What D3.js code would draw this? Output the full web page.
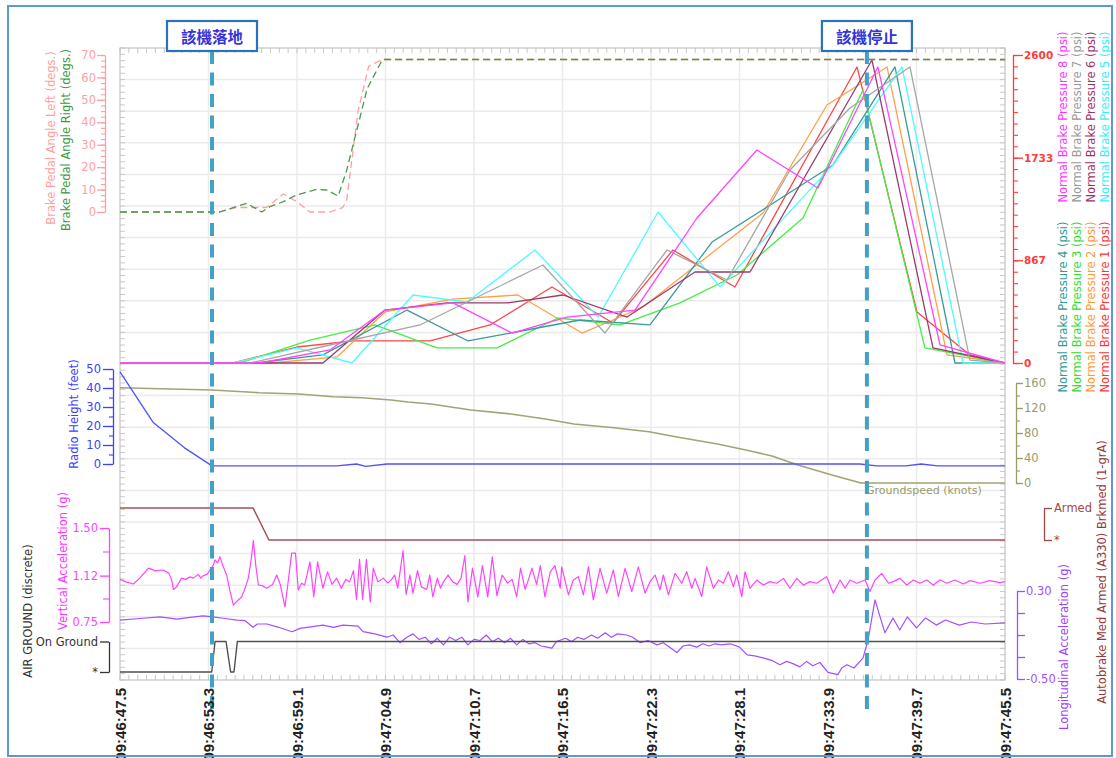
<!DOCTYPE html>
<html>
<head>
<meta charset="utf-8">
<script src="https://cdn.jsdelivr.net/npm/d3@7"></script>
<style>
  body { margin: 0; background: #fff; }
  svg { display: block; }
  text { font-family: "DejaVu Sans", Verdana, sans-serif; }
</style>
</head>
<body>
<svg id="chart" width="1116" height="758"></svg>
<script>
// ---------------- data (time in seconds after 09:46:47.5) ----------------
const timeDomain = [0, 58];
const tickStep = 5.8;
const xTickLabels = ["09:46:47.5", "09:46:53.3", "09:46:59.1", "09:47:04.9", "09:47:10.7",
  "09:47:16.5", "09:47:22.3", "09:47:28.1", "09:47:33.9", "09:47:39.7", "09:47:45.5"];

const eventTimes = [6.03, 48.95];
const eventLabels = ["該機落地", "該機停止"];

// brake pedal angles (degs.)
const pedalLeft = [[0,0],[6.5,0],[7.6,2],[9.6,2],[10.7,8],[11.58,4.6],[12.45,0],[13.76,0],[14.6,2],[14.86,5.4],
  [15.6,45],[16.3,65],[17.2,68],[58,68]];
const pedalRight = [[0,0],[6.55,0],[8.3,3.9],[9.29,0],[9.83,2.4],[10.7,4.6],[11.58,7.6],[12.89,10.1],[13.55,9.8],
  [14.3,7.1],[14.86,18.7],[16.2,55],[17.2,68],[58,68]];

// normal brake pressures (psi)
const brakePressure1 = [[0,0],[7.4,0],[11.6,135],[15.27,186],[20.32,186],[24.25,321],[28.31,642],[32.31,338],
  [36.24,954],[40.3,642],[48.3,2499],[52.23,431],[55.7,68],[58,0]];
const brakePressure2 = [[0,0],[9.83,0],[14.22,51],[17.37,431],[21.8,540],[26.08,574],[30.28,253],[32.31,363],
  [34.27,473],[42.14,1266],[46.33,2178],[50.27,2499],[54.2,68],[58,0]];
const brakePressure3 = [[0,0],[7.86,0],[12.45,194],[16.71,321],[20.77,127],[24.71,127],[28.7,380],[32.77,321],
  [36.7,507],[40.43,743],[44.76,1224],[48.69,2305],[52.75,127],[58,0]];
const brakePressure4 = [[0,0],[8.85,0],[13.3,68],[18.81,447],[22.81,186],[30.15,363],[34.73,321],[38.8,1021],
  [46.73,1672],[50.79,2499],[54.72,0],[58,0]];
const brakePressure5 = [[0,0],[7.41,0],[11.6,127],[15.2,0],[19.2,574],[22.74,515],[27.2,954],[31.33,388],
  [35.26,1275],[39.32,642],[46.73,1672],[51.25,2499],[55.25,0],[58,0]];
const brakePressure6 = [[0,0],[13.3,0],[17.37,447],[21.43,507],[25.36,507],[29.03,574],[33.23,388],[37.68,768],
  [41.29,768],[49.28,2558],[53.28,127],[58,0]];
const brakePressure7 = [[0,0],[8.52,0],[13.76,152],[19.66,321],[27.72,827],[31.78,253],[35.85,954],[39.78,701],
  [43.91,1629],[47.84,2153],[51.77,2499],[55.7,25],[58,0]];
const brakePressure8 = [[0,0],[9.17,0],[13.76,110],[17.37,447],[21.82,507],[25.69,253],[29.29,388],[33.75,447],
  [37.81,1224],[41.74,1798],[45.74,1477],[49.67,2499],[53.74,152],[58,0]];
const pressureNames = ["Normal Brake Pressure 1 (psi)", "Normal Brake Pressure 2 (psi)",
  "Normal Brake Pressure 3 (psi)", "Normal Brake Pressure 4 (psi)", "Normal Brake Pressure 5 (psi)",
  "Normal Brake Pressure 6 (psi)", "Normal Brake Pressure 7 (psi)", "Normal Brake Pressure 8 (psi)"];
const pressureTicks = [0, 867, 1733, 2600];

// radio height (feet) and groundspeed (knots)
const radioHeight = [[0,48.5],[2.16,22],[4.23,8.5],[6.03,-1],[14.2,-1],[15.5,0],[16.1,-1.2],[17.5,0],
  [48.5,0],[49.6,-1],[51.5,-1],[52.5,0],[53.6,-1],[58,-1]];
const groundspeed = [[0,152.5],[6.03,148.8],[9.11,144.5],[11.73,142.4],[13.99,138],[15.86,136.5],[17.76,132.8],
  [18.87,129.6],[20.38,126.4],[23.0,116.8],[25.62,110.4],[27.88,102.4],[29.75,94.4],[32.37,88.5],[34.67,82],
  [36.5,73.6],[39.16,62.4],[41.02,52.8],[42.73,43.2],[44.43,28.8],[46.66,12.8],[48.56,0],[58,0]];

// discretes: autobrake med armed (1 = Armed) and air/ground (1 = On Ground)
const autobrakeArmed = [[0,1],[8.72,1],[9.76,0],[58,0]];
const airGround = [[0,0],[6.01,0],[6.23,1],[6.95,1],[7.25,0],[7.47,0],[7.69,1],[58,1]];

// vertical acceleration (g)
const verticalAccel = [[0,1.09],[0.4,1.07],[0.87,1.053],[1.3,1.1],[1.86,1.18],[2.3,1.16],[2.84,1.165],[3.2,1.14],
  [3.39,1.085],[3.5,1.01],[3.7,1.03],[4.04,1.10],[4.3,1.09],[4.59,1.11],[4.8,1.10],[5.13,1.13],[5.3,1.10],
  [5.46,1.12],[5.7,1.13],[5.9,1.165],[6.1,1.2],[6.23,1.245],[6.4,1.22],[6.55,1.27],[6.77,1.19],[6.99,1.125],
  [7.2,1.0],[7.43,0.885],[7.7,0.92],[7.97,0.95],[8.2,1.02],[8.41,1.10],[8.6,1.25],[8.74,1.40],[8.9,1.2],
  [9.07,1.045],[9.3,1.04],[9.61,1.02],[10.0,1.05],[10.27,1.125],[10.5,1.05],[10.81,0.87],[11.0,1.05],
  [11.25,1.30],[11.5,1.30],[11.68,1.005],[11.9,1.06],[12.1,1.045],[12.45,1.23],[12.7,0.95],[12.95,1.23],
  [13.3,1.02],[13.6,1.15],[13.9,1.05],[14.2,1.10],[14.5,1.02],[14.8,1.09],[15.05,1.07],[15.3,1.16],[15.5,0.93],
  [15.7,1.25],[15.9,0.93],[16.15,1.25],[16.4,0.91],[16.6,1.18],[16.9,1.07],[17.25,1.10],[17.55,1.06],[17.8,1.09],
  [18.0,1.125],[18.2,1.02],[18.55,1.32],[18.75,0.97],[19.0,1.125],[19.2,0.98],[19.5,1.16],[19.75,1.03],
  [20.1,1.01],[20.3,1.125],[20.5,0.95],[20.8,1.10],[21.0,1.02],[21.2,1.07],[21.5,1.125],[21.8,1.07],[22.1,1.05],
  [22.35,1.1],[22.6,1.28],[22.8,0.91],[23.1,1.18],[23.45,0.95],[23.75,1.2],[24.1,0.95],[24.4,1.27],[24.7,0.96],
  [25.05,1.125],[25.4,1.06],[25.7,1.09],[26.0,0.95],[26.25,1.18],[26.55,1.01],[26.8,1.1],[27.0,1.18],[27.3,1.05],
  [27.55,1.2],[27.85,0.95],[28.2,1.15],[28.5,1.2],[28.85,1.02],[28.95,1.19],[29.39,0.966],[29.71,1.085],
  [30.04,1.112],[30.37,0.966],[30.7,1.19],[31.02,0.926],[31.46,1.178],[31.9,0.98],[32.33,1.165],[32.66,0.953],
  [33.1,1.178],[33.54,0.993],[33.97,1.19],[34.41,0.98],[34.74,1.072],[35.07,1.125],[35.39,1.006],[35.61,1.125],
  [35.94,0.966],[36.38,1.138],[36.81,1.059],[37.14,1.151],[37.47,1.019],[37.69,1.098],[38.12,0.953],[38.45,1.19],
  [38.89,1.019],[39.22,1.085],[39.54,1.059],[39.87,1.151],[40.2,1.032],[40.42,1.125],[40.75,0.953],[40.96,1.151],
  [41.29,1.019],[41.73,1.085],[42.16,1.045],[42.6,1.072],[43.04,1.059],[43.48,1.098],[43.91,1.019],[44.35,1.098],
  [44.79,1.045],[45.22,1.072],[45.66,1.059],[46.31,1.112],[46.75,0.98],[47.19,1.085],[47.52,1.019],[47.84,1.085],
  [48.28,1.059],[48.83,1.085],[49.15,0.993],[49.48,1.085],[49.92,1.138],[50.36,1.059],[50.68,1.072],[51.12,1.098],
  [51.56,1.045],[52.0,1.085],[52.43,1.059],[52.87,1.085],[53.3,1.045],[53.74,1.085],[54.18,1.059],[54.72,1.085],
  [55.27,1.053],[55.71,1.08],[56.36,1.059],[57.0,1.08],[57.66,1.064],[58,1.072]];

// longitudinal acceleration (g)
const longitudinalAccel = [[0,0.036],[1.3,0.05],[2.62,0.064],[3.74,0.045],[4.6,0.06],[5.44,0.073],[6.09,0.064],
  [6.9,0.05],[7.67,0.036],[8.2,0.03],[8.72,-0.03],[9.0,0.0],[9.63,0.0],[10.4,-0.03],[11.27,-0.07],[11.8,-0.04],
  [12.26,-0.03],[13.3,-0.01],[14.0,-0.03],[14.61,-0.01],[15.6,-0.02],[15.93,-0.07],[16.7,-0.09],[17.5,-0.12],
  [17.9,-0.1],[18.35,-0.17],[18.8,-0.12],[19.2,-0.09],[19.6,-0.14],[20.0,-0.12],[20.4,-0.18],[20.8,-0.13],
  [21.2,-0.19],[21.6,-0.12],[22.0,-0.15],[22.4,-0.12],[22.8,-0.19],[23.2,-0.14],[23.6,-0.15],[24.0,-0.1],
  [24.4,-0.16],[24.8,-0.13],[25.2,-0.17],[25.6,-0.13],[26.0,-0.19],[26.4,-0.14],[26.8,-0.18],[27.2,-0.17],
  [27.6,-0.2],[28.0,-0.21],[28.3,-0.22],[28.6,-0.16],[28.8,-0.15],[29.2,-0.13],[29.6,-0.16],[30.0,-0.12],
  [30.4,-0.14],[30.9,-0.1],[31.3,-0.13],[31.8,-0.08],[32.2,-0.12],[32.6,-0.09],[33.2,-0.1],[33.6,-0.12],
  [34.1,-0.17],[34.6,-0.15],[35.2,-0.19],[35.6,-0.17],[36.0,-0.21],[36.5,-0.26],[36.9,-0.2],[37.3,-0.19],
  [37.8,-0.21],[38.2,-0.18],[38.6,-0.2],[39.0,-0.18],[39.4,-0.19],[40.0,-0.18],[40.6,-0.21],[41.1,-0.28],
  [41.6,-0.29],[42.2,-0.31],[42.7,-0.33],[43.25,-0.37],[43.7,-0.34],[44.1,-0.36],[44.56,-0.39],[45.0,-0.34],
  [45.4,-0.38],[45.87,-0.35],[46.4,-0.44],[47.05,-0.46],[47.3,-0.4],[47.64,-0.37],[48.1,-0.4],[48.69,-0.31],
  [49.02,-0.15],[49.48,0.22],[50.13,-0.08],[50.66,0.055],[51.1,-0.055],[51.6,0.064],[52.2,-0.036],[52.8,0.055],
  [53.5,-0.01],[54.1,0.036],[55.0,-0.01],[55.8,0.018],[56.7,0.0],[58,0.01]];

// ---------------- layout ----------------
const svg = d3.select("#chart");
const plot = { left: 120, right: 1005, top: 48, bottom: 680 };

const x = d3.scaleLinear().domain(timeDomain).range([plot.left, plot.right]);
const yPedal = d3.scaleLinear().domain([0, 70]).range([212, 55]);
const yPress = d3.scaleLinear().domain([0, 2600]).range([363, 55]);
const yRadio = d3.scaleLinear().domain([0, 50]).range([464, 369]);
const yGS = d3.scaleLinear().domain([0, 160]).range([483, 383]);
const yAB = d3.scaleLinear().domain([0, 1]).range([540, 508]);
const yVA = d3.scaleLinear().domain([0.75, 1.5]).range([622, 528]);
const yAG = d3.scaleLinear().domain([0, 1]).range([672, 641.5]);
const yLA = d3.scaleLinear().domain([-0.5, 0.3]).range([679, 591]);

const xTicks = xTickLabels.map((_, i) => i * tickStep);

// ---------------- grid and frame ----------------
const grid = svg.append("g");
const hCount = 20;
d3.range(1, hCount).forEach(k => {
  const yy = plot.top + k * (plot.bottom - plot.top) / hCount;
  grid.append("line").attr("x1", plot.left).attr("x2", plot.right).attr("y1", yy).attr("y2", yy)
    .attr("stroke", "#ebebeb").attr("stroke-width", 1.5);
});
xTicks.slice(1, -1).forEach(t => {
  grid.append("line").attr("x1", x(t)).attr("x2", x(t)).attr("y1", plot.top).attr("y2", plot.bottom)
    .attr("stroke", "#ebebeb").attr("stroke-width", 1.5);
});
// minor ticks on the frame
const minorY = d3.range(0, 101).map(k => plot.top + k * (plot.bottom - plot.top) / 100);
minorY.forEach(yy => {
  grid.append("line").attr("x1", plot.left).attr("x2", plot.left + 5).attr("y1", yy).attr("y2", yy).attr("stroke", "#c8c8c8");
  grid.append("line").attr("x1", plot.right - 5).attr("x2", plot.right).attr("y1", yy).attr("y2", yy).attr("stroke", "#c8c8c8");
});
d3.range(0, 100.5, 1).forEach(k => {
  const xx = x(k * tickStep / 10);
  grid.append("line").attr("x1", xx).attr("x2", xx).attr("y1", plot.bottom - 5).attr("y2", plot.bottom).attr("stroke", "#c8c8c8");
  grid.append("line").attr("x1", xx).attr("x2", xx).attr("y1", plot.top).attr("y2", plot.top + 5).attr("stroke", "#c8c8c8");
});
grid.append("rect").attr("x", plot.left).attr("y", plot.top)
  .attr("width", plot.right - plot.left).attr("height", plot.bottom - plot.top)
  .attr("fill", "none").attr("stroke", "#c4c4c4").attr("stroke-width", 1.2);

// ---------------- series ----------------
const marks = svg.append("g");
function drawLine(data, yScale, color, width, dash) {
  const line = d3.line().x(d => x(d[0])).y(d => yScale(d[1]));
  const p = marks.append("path").datum(data).attr("d", line)
    .attr("fill", "none").attr("stroke", color).attr("stroke-width", width)
    .attr("stroke-linejoin", "round");
  if (dash) p.attr("stroke-dasharray", dash);
  return p;
}

const pressureColors = ["#ff4646", "#ffa04a", "#44ee44", "#3a9a9a", "#4dfcfc", "#9a3a6e", "#a6a6a6", "#ff44ff"];
const pressureData = [brakePressure1, brakePressure2, brakePressure3, brakePressure4,
  brakePressure5, brakePressure6, brakePressure7, brakePressure8];
pressureData.forEach((d, i) => drawLine(d, yPress, pressureColors[i], 1.3));

drawLine(pedalLeft, yPedal, "#ff9f9f", 1.3, "7,4");
drawLine(pedalRight, yPedal, "#4a9a4a", 1.3, "7,4");

drawLine(groundspeed, yGS, "#a3a374", 1.6);
drawLine(radioHeight, yRadio, "#5050ff", 1.3);
drawLine(autobrakeArmed, yAB, "#a85050", 1.5);
drawLine(verticalAccel, yVA, "#ff44ff", 1.2);
drawLine(longitudinalAccel, yLA, "#a050ff", 1.2);
drawLine(airGround, yAG, "#505050", 1.4);

marks.append("text").attr("x", 866).attr("y", 494).attr("font-size", 11)
  .attr("fill", "#9a9a6a").text("Groundspeed (knots)");

// ---------------- event markers ----------------
const ev = svg.append("g");
eventTimes.forEach((t, i) => {
  const cx = x(t);
  ev.append("line").attr("x1", cx).attr("x2", cx).attr("y1", 51).attr("y2", 712)
    .attr("stroke", "#44a0c4").attr("stroke-width", 4).attr("stroke-dasharray", "13,8.5");
  ev.append("rect").attr("x", cx - 45).attr("y", 21).attr("width", 90).attr("height", 30)
    .attr("fill", "#fff").attr("stroke", "#2b72bd").attr("stroke-width", 2.2);
  ev.append("text").attr("x", cx).attr("y", 36).attr("text-anchor", "middle")
    .attr("dominant-baseline", "central").attr("font-size", 15.5).attr("font-weight", "bold")
    .style("font-family", "'Noto Sans CJK TC', 'Noto Sans CJK SC', sans-serif")
    .attr("fill", "#3434d8").text(eventLabels[i]);
});

// ---------------- axes ----------------
function styleAxis(g, color, size, weight) {
  g.selectAll("path.domain").attr("stroke", color).attr("stroke-width", 1.3);
  g.selectAll("line").attr("stroke", color).attr("stroke-width", 1.3);
  g.selectAll("text").attr("fill", color).attr("font-size", size)
    .attr("font-weight", weight || "normal").style("font-family", "'DejaVu Sans', Verdana, sans-serif");
}
function addAxis(axis, xPos, color, size, weight) {
  const g = svg.append("g").attr("transform", `translate(${xPos},0)`).call(axis);
  styleAxis(g, color, size, weight);
  return g;
}
function minorAxis(axisFn, scale, values, xPos, color, len) {
  const g = svg.append("g").attr("transform", `translate(${xPos},0)`)
    .call(axisFn(scale).tickValues(values).tickSize(len).tickSizeOuter(0).tickFormat(""));
  g.select("path.domain").remove();
  g.selectAll("line").attr("stroke", color).attr("stroke-width", 1.1);
}

// brake pedal angle (left)
minorAxis(d3.axisLeft, yPedal, d3.range(0, 70.1, 2.5), 105, "#ff9f9f", 4);
addAxis(d3.axisLeft(yPedal).tickValues(d3.range(0, 71, 10)).tickSize(8).tickSizeOuter(0).tickPadding(1),
  105, "#ff9f9f", 11.5);

// brake pressure (right)
minorAxis(d3.axisRight, yPress, d3.range(0, 2600.1, 2600 / 27), 1013, "#ff4646", 5);
addAxis(d3.axisRight(yPress).tickValues(pressureTicks).tickSize(10).tickSizeOuter(0).tickPadding(1)
  .tickFormat(d3.format("d")), 1013, "#ff3b3b", 10.5, "bold");

// radio height (left)
minorAxis(d3.axisLeft, yRadio, d3.range(0, 50.1, 5), 113, "#4040ff", 4);
addAxis(d3.axisLeft(yRadio).tickValues(d3.range(0, 51, 10)).tickSize(10).tickSizeOuter(0).tickPadding(2),
  113, "#4040ff", 11.5);

// groundspeed (right)
minorAxis(d3.axisRight, yGS, d3.range(0, 160.1, 20), 1016, "#9a9a6a", 4);
addAxis(d3.axisRight(yGS).tickValues(d3.range(0, 161, 40)).tickSize(7).tickSizeOuter(0).tickPadding(1),
  1016, "#9a9a6a", 11.5);

// autobrake discrete (right)
addAxis(d3.axisRight(yAB).tickValues([0, 1]).tickSize(8).tickSizeOuter(0).tickPadding(2)
  .tickFormat(d => d ? "Armed" : "*"), 1044, "#a04848", 11.5);

// vertical acceleration (left)
const vaTickValues = [0.75, 1.12, 1.50];
const vaTickLabels = ["0.75", "1.12", "1.50"];
minorAxis(d3.axisLeft, yVA, [0.9375, 1.3125], 109, "#ff44ff", 6);
addAxis(d3.axisLeft(yVA).tickValues(vaTickValues).tickSize(9).tickSizeOuter(0).tickPadding(2)
  .tickFormat((d, i) => vaTickLabels[i]), 109, "#ff44ff", 11.5);

// air / ground discrete (left)
addAxis(d3.axisLeft(yAG).tickValues([0, 1]).tickSize(9).tickSizeOuter(0).tickPadding(2)
  .tickFormat(d => d ? "On Ground" : "*"), 109, "#333333", 11.5);

// longitudinal acceleration (right)
const laTickValues = [-0.5, -0.3, -0.1, 0.1, 0.3];
addAxis(d3.axisRight(yLA).tickValues(laTickValues).tickSize(8).tickSizeOuter(0).tickPadding(1)
  .tickFormat(d => (d === 0.3 || d === -0.5) ? d.toFixed(2) : ""), 1017, "#a050ff", 11.5);

// time axis labels (rotated)
const xl = svg.append("g");
xTicks.forEach((t, i) => {
  xl.append("text").attr("transform", `translate(${x(t)},688) rotate(-90)`)
    .attr("text-anchor", "end").attr("dominant-baseline", "central")
    .attr("font-size", 15).attr("font-weight", "bold")
    .style("font-family", "'Liberation Sans', Arial, sans-serif")
    .attr("fill", "#222").text(xTickLabels[i]);
});

// ---------------- rotated axis titles ----------------
function vTitle(txt, cx, cy, color, size) {
  svg.append("text").attr("transform", `translate(${cx},${cy}) rotate(-90)`)
    .attr("text-anchor", "middle").attr("dominant-baseline", "central")
    .attr("font-size", size || 11.5).attr("fill", color).text(txt);
}
vTitle("Brake Pedal Angle Left (degs.)", 51, 138, "#ff9f9f");
vTitle("Brake Pedal Angle Right (degs.)", 66, 140, "#3f973f");
const pressureLabelColors = ["#ff3535", "#ff9a3a", "#33dd33", "#339999", "#33eeff", "#993366", "#999999", "#ff33ff"];
pressureNames.forEach((name, i) => {
  const col = i % 4;
  const cx = 1104.5 - col * 13.8;
  const cy = i < 4 ? 307 : 117;
  vTitle(name, cx, cy, pressureLabelColors[i]);
});
vTitle("Radio Height (feet)", 74, 414, "#4040ff");
vTitle("Vertical Acceleration (g)", 63, 561, "#ff33ff");
vTitle("AIR GROUND (discrete)", 28, 611, "#333333");
vTitle("Longitudinal Acceleration (g)", 1064, 647, "#a040ff");
vTitle("Autobrake Med Armed (A330) Brkmed (1-grA)", 1102, 572, "#993939");

// outer frame
svg.append("rect").attr("x", 8).attr("y", 6).attr("width", 1104).attr("height", 750)
  .attr("fill", "none").attr("stroke", "#5b9bd5").attr("stroke-width", 2);
</script>
</body>
</html>
